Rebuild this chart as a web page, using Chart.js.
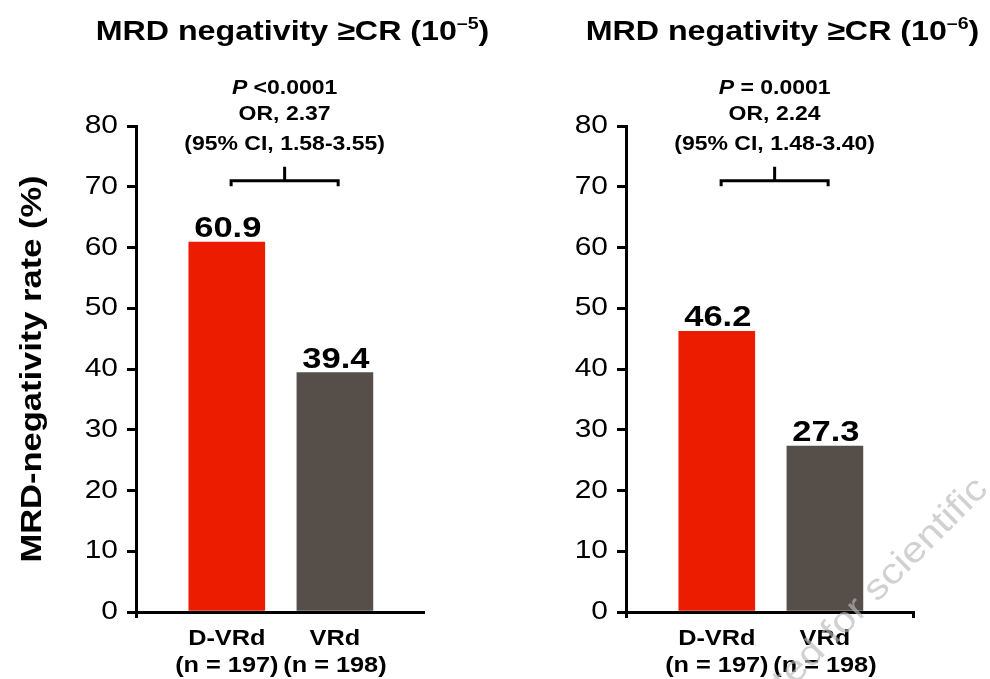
<!DOCTYPE html>
<html>
<head>
<meta charset="utf-8">
<script src="https://cdn.jsdelivr.net/npm/chart.js@4.4.1/dist/chart.umd.min.js"></script>
<style>
  html, body { margin: 0; padding: 0; background: #fff; }
  #wrap { position: relative; width: 990px; height: 679px; overflow: hidden; }
  #c1 { position: absolute; left: 0; top: 0; }
  #c2 { position: absolute; left: 490px; top: 0; }
</style>
</head>
<body>
<div id="wrap">
  <canvas id="c1" width="490" height="679"></canvas>
  <canvas id="c2" width="500" height="679"></canvas>
</div>
<script>
// Treatment arms and their sizes
const groups = ['D-VRd', 'VRd'];
const groupSizes = ['(n = 197)', '(n = 198)'];

// MRD-negativity rates (%) at the two sensitivity thresholds
const rates1e5 = [60.9, 39.4];
const rates1e6 = [46.2, 27.3];

// Y axis ticks
const yTicks = [0, 10, 20, 30, 40, 50, 60, 70, 80];

// Panel headings (main text, superscript exponent)
const headingMain = ['MRD negativity \u2265CR (10', 'MRD negativity \u2265CR (10'];
const headingExp = ['\u20135', '\u20136'];

// Statistical comparison text
const pValues = ['<0.0001', '= 0.0001'];
const oddsRatios = ['OR, 2.37', 'OR, 2.24'];
const confIntervals = ['(95% CI, 1.58-3.55)', '(95% CI, 1.48-3.40)'];

const barColors = ['#ec1c01', '#564e48'];
const FAM = "'Liberation Sans', Arial, Helvetica, sans-serif";

// All lettering uses a slightly extended (horizontally widened) face
const SX = 1.15;
function useExtendedText(ctx) {
  if (ctx.__extended) return;
  const nativeFill = ctx.fillText;
  ctx.fillText = function (text, x, y, maxWidth) {
    this.save();
    this.translate(x, y);
    this.scale(SX, 1);
    if (maxWidth === undefined || maxWidth === null) nativeFill.call(this, text, 0, 0);
    else nativeFill.call(this, text, 0, 0, maxWidth / SX);
    this.restore();
  };
  ctx.__extended = true;
}

function drawHeading(ctx, cx, baseline, main, exp) {
  const big = 28, small = 17;
  ctx.save();
  ctx.fillStyle = '#000';
  ctx.textBaseline = 'alphabetic';
  ctx.textAlign = 'left';
  ctx.font = `bold ${big}px ${FAM}`;
  const w1 = ctx.measureText(main).width * SX;
  const w3 = ctx.measureText(')').width * SX;
  ctx.font = `bold ${small}px ${FAM}`;
  const w2 = ctx.measureText(exp).width * SX;
  let x = cx - (w1 + w2 + w3) / 2;
  ctx.font = `bold ${big}px ${FAM}`;
  ctx.fillText(main, x, baseline);
  x += w1;
  ctx.font = `bold ${small}px ${FAM}`;
  ctx.fillText(exp, x, baseline - 11);
  x += w2;
  ctx.font = `bold ${big}px ${FAM}`;
  ctx.fillText(')', x, baseline);
  ctx.restore();
}

const panelDecor = {
  id: 'panelDecor',
  beforeInit(chart) {
    useExtendedText(chart.ctx);
  },
  afterDraw(chart, args, opts) {
    const ctx = chart.ctx;
    const xs = chart.scales.x, ys = chart.scales.y;
    const area = chart.chartArea;
    const k = opts.index;
    const values = chart.data.datasets[0].data;

    // heading
    drawHeading(ctx, (area.left + area.right) / 2 + 13, 40, headingMain[k], headingExp[k]);

    // value labels above each bar
    const meta = chart.getDatasetMeta(0);
    ctx.save();
    ctx.fillStyle = '#000';
    ctx.font = `bold 30px ${FAM}`;
    ctx.textAlign = 'center';
    ctx.textBaseline = 'alphabetic';
    meta.data.forEach((bar, i) => {
      ctx.fillText(values[i].y.toFixed(1), bar.x + 1, bar.y - 5);
    });
    ctx.restore();

    // comparison bracket
    const xa = xs.getPixelForValue(1.04), xb = xs.getPixelForValue(2.03);
    const yb = ys.getPixelForValue(71), yDown = ys.getPixelForValue(70.1), yUp = ys.getPixelForValue(73.3);
    const xm = (xa + xb) / 2;
    ctx.save();
    ctx.strokeStyle = '#000';
    ctx.lineWidth = 3;
    ctx.lineCap = 'butt';
    ctx.beginPath();
    ctx.moveTo(xa, yDown); ctx.lineTo(xa, yb); ctx.lineTo(xb, yb); ctx.lineTo(xb, yDown);
    ctx.moveTo(xm, yb); ctx.lineTo(xm, yUp);
    ctx.stroke();
    ctx.restore();

    // p-value / OR / CI text
    ctx.save();
    ctx.fillStyle = '#000';
    ctx.textBaseline = 'alphabetic';
    ctx.textAlign = 'left';
    ctx.font = `italic bold 20px ${FAM}`;
    const wp = ctx.measureText('P').width * SX;
    ctx.font = `bold 20px ${FAM}`;
    const rest = ' ' + pValues[k];
    const wr = ctx.measureText(rest).width * SX;
    const x0 = xm - (wp + wr) / 2;
    ctx.font = `italic bold 20px ${FAM}`;
    ctx.fillText('P', x0, 94);
    ctx.font = `bold 20px ${FAM}`;
    ctx.fillText(rest, x0 + wp, 94);
    ctx.textAlign = 'center';
    ctx.fillText(oddsRatios[k], xm, 120);
    ctx.fillText(confIntervals[k], xm, 150);
    ctx.restore();

    if (opts.watermark) {
      ctx.save();
      ctx.translate(296, 694);
      ctx.rotate(-Math.PI / 4);
      ctx.font = `36px ${FAM}`;
      ctx.fillStyle = 'rgba(185,185,185,0.65)';
      ctx.textAlign = 'left';
      ctx.textBaseline = 'alphabetic';
      ctx.fillText('ted for scientific', 0, 0);
      ctx.restore();
    }
  }
};

function makePanel(canvasId, values, index, showYTitle, endTick, padRight, watermark) {
  const xMin = 0.16, xMax = 2.815;
  return new Chart(document.getElementById(canvasId), {
    type: 'bar',
    data: {
      datasets: [{
        data: values.map((v, i) => ({ x: i + 1, y: v })),
        backgroundColor: barColors,
        borderWidth: 0,
        barThickness: 76
      }]
    },
    options: {
      responsive: false,
      animation: false,
      devicePixelRatio: 1,
      layout: { padding: { top: 126, right: padRight, left: 0, bottom: 0 } },
      plugins: {
        legend: { display: false },
        tooltip: { enabled: false },
        panelDecor: { index: index, watermark: watermark }
      },
      scales: {
        x: {
          type: 'linear',
          min: xMin,
          max: xMax,
          offset: false,
          afterBuildTicks: s => { s.ticks = [xMin, 1, 2, xMax].map(v => ({ value: v })); },
          afterFit: s => { s.height = 67; },
          grid: {
            display: true,
            offset: false,
            drawOnChartArea: false,
            drawTicks: true,
            tickLength: 6,
            lineWidth: 3,
            color: c => {
              const v = c.tick ? c.tick.value : null;
              if (v === xMin) return '#000';
              if (v === xMax && endTick) return '#000';
              return 'rgba(0,0,0,0)';
            }
          },
          border: { display: true, color: '#000', width: 3 },
          ticks: {
            autoSkip: false,
            maxRotation: 0,
            minRotation: 0,
            padding: 8,
            color: '#000',
            font: { family: FAM, size: 22, weight: 'bold', lineHeight: 1.2 },
            callback: v => {
              const i = v - 1;
              if (i === 0 || i === 1) return [groups[i], groupSizes[i]];
              return '';
            }
          }
        },
        y: {
          min: 0,
          max: 80,
          afterBuildTicks: s => { s.ticks = yTicks.map(v => ({ value: v })); },
          afterFit: s => { s.width = 136; },
          grid: { drawOnChartArea: false, drawTicks: true, tickLength: 9, lineWidth: 3, color: '#000' },
          border: { display: true, color: '#000', width: 3 },
          ticks: { padding: 9, color: '#000', font: { family: FAM, size: 26 } },
          title: {
            display: showYTitle,
            text: 'MRD-negativity rate (%)',
            color: '#000',
            font: { family: FAM, size: 30, weight: 'bold' },
            padding: { top: 15, bottom: 0 }
          }
        }
      }
    },
    plugins: [panelDecor]
  });
}

makePanel('c1', rates1e5, 0, true, false, 67, false);
makePanel('c2', rates1e6, 1, false, true, 77, true);
</script>
</body>
</html>
